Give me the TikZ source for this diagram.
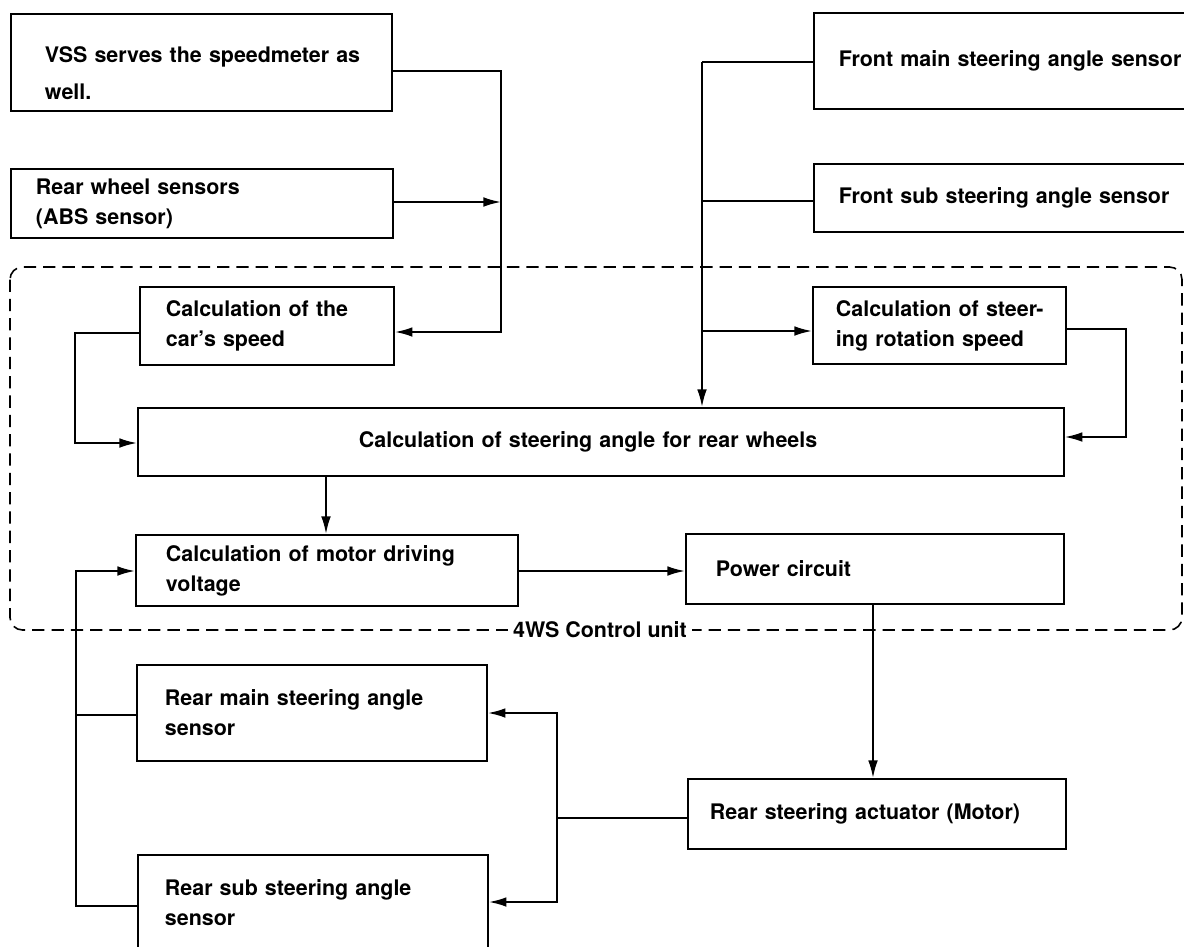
\documentclass[tikz,border=0pt]{standalone}
\usepackage{fontspec}
\setmainfont{TeX Gyre Heros}
\usetikzlibrary{arrows.meta}
\begin{document}
\begin{tikzpicture}[x=0.02cm,y=-0.02cm,
  box/.style={draw, line width=1.1pt, anchor=north west, inner xsep=0pt, inner ysep=0pt,
    align=left, font=\fontsize{12.2}{17}\selectfont\bfseries},
  conn/.style={line width=1.1pt},
  arr/.style={conn, -{Latex[length=10pt,width=5.5pt]}},
  lbl/.style={fill=white, inner sep=3pt, font=\fontsize{12.2}{17}\selectfont\bfseries}]
\useasboundingbox (0,0) rectangle (1184,947);
\clip (0,0) rectangle (1184,947);

% control unit boundary
\draw[dash pattern=on 7pt off 4pt, line width=0.9pt, rounded corners=0.25cm] (10,267) rectangle (1182,630);
\node[lbl] (cu) at (600,630) {4WS Control unit};

% boxes
\node[box, text width=7.62cm, minimum height=1.94cm] (vss) at (10,13)
  {\hspace*{0.68cm}\rule{0pt}{0.74cm}VSS serves the speedmeter as\\[4pt]\hspace*{0.68cm}well.};
\node[box, text width=7.64cm, minimum height=1.38cm] (rws) at (10,168)
  {\hspace*{0.50cm}Rear wheel sensors\\\hspace*{0.50cm}(ABS sensor)};
\node[box, text width=7.74cm, minimum height=1.92cm] (fms) at (813,12)
  {\hspace*{0.50cm}Front main steering angle sensor};
\node[box, text width=7.74cm, minimum height=1.36cm] (fss) at (813,163)
  {\hspace*{0.50cm}Front sub steering angle sensor};
\node[box, text width=5.08cm, minimum height=1.56cm] (ccs) at (139,286)
  {\hspace*{0.52cm}Calculation of the\\\hspace*{0.52cm}car’s speed};
\node[box, text width=5.06cm, minimum height=1.54cm] (csr) at (812,286)
  {\hspace*{0.46cm}Calculation of steer-\\\hspace*{0.46cm}ing rotation speed};
\node[box, text width=18.52cm, minimum height=1.36cm] (csa) at (137,407)
  {\hspace*{4.42cm}Calculation of steering angle for rear wheels};
\node[box, text width=7.64cm, minimum height=1.42cm] (cmv) at (135,534)
  {\hspace*{0.60cm}Calculation of motor driving\\\hspace*{0.60cm}voltage};
\node[box, text width=7.56cm, minimum height=1.40cm] (pwr) at (685,533)
  {\hspace*{0.60cm}Power circuit};
\node[box, text width=7.56cm, minimum height=1.40cm] (act) at (687,778)
  {\hspace*{0.44cm}Rear steering actuator (Motor)};
\node[box, text width=7.00cm, minimum height=1.92cm] (rms) at (136,664)
  {\hspace*{0.56cm}Rear main steering angle\\\hspace*{0.56cm}sensor};
\node[box, text width=7.00cm, minimum height=1.92cm] (rss) at (137,854)
  {\hspace*{0.54cm}Rear sub steering angle\\\hspace*{0.54cm}sensor};

% junction coordinates
\coordinate (a1) at (501,71);
\coordinate (a2) at (501,332);
\coordinate (a3) at (501,202);
\coordinate (b1) at (75,333);
\coordinate (b2) at (75,443);
\coordinate (c1) at (702,62);
\coordinate (c2) at (702,201);
\coordinate (c4) at (702,331);
\coordinate (d1) at (1126,329);
\coordinate (d2) at (1126,437);
\coordinate (e1) at (326,500);
\coordinate (f1) at (600,571);
\coordinate (g1) at (873,700);
\coordinate (h1) at (557,818);
\coordinate (h2) at (557,713);
\coordinate (h3) at (557,902);
\coordinate (k1) at (76,715);
\coordinate (k2) at (76,906);
\coordinate (k3) at (76,571);

% connectors
\draw[arr] (vss.east |- a1) -- (a1) -- (a2) -- (ccs.east |- a2);
\draw[arr] (rws.east |- a3) -- (a3);
\draw[arr] (ccs.west |- b1) -- (b1) -- (b2) -- (csa.west |- b2);
\draw[conn] (fms.west |- c1) -- (c1);
\draw[arr] (c1) -- (csa.north -| c1);
\draw[conn] (fss.west |- c2) -- (c2);
\draw[arr] (c4) -- (csr.west |- c4);
\draw[arr] (csr.east |- d1) -- (d1) -- (d2) -- (csa.east |- d2);
\draw[arr] (csa.south -| e1) -- (cmv.north -| e1);
\draw[arr] (cmv.east |- f1) -- (pwr.west |- f1);
\draw[arr] (pwr.south -| g1) -- (act.north -| g1);
\draw[conn] (act.west |- h1) -- (h1);
\draw[arr] (h1) -- (h2) -- (rms.east |- h2);
\draw[arr] (h1) -- (h3) -- (rss.east |- h3);
\draw[conn] (rms.west |- k1) -- (k1);
\draw[arr] (rss.west |- k2) -- (k2) -- (k3) -- (cmv.west |- k3);
\end{tikzpicture}
\end{document}
